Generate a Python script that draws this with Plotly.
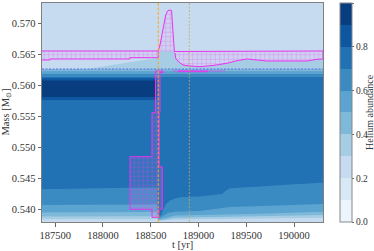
import plotly.graph_objects as go

# ---------------- data ----------------
T_RANGE = [187362, 190303]
M_RANGE = [0.53795, 0.57327]

# helium-abundance band colours (Blues, 10 levels 0..1)
HE_LEVELS = [0.05, 0.15, 0.25, 0.35, 0.45, 0.55, 0.65, 0.75, 0.85, 0.95]
BLUES = ['#edf5fc', '#d9e8f5', '#c6dbef', '#a6cde4', '#7fb9da',
         '#5ba3d0', '#3b8bc3', '#2171b5', '#0d57a1', '#083d7f']

HE_CORE = 0.75
HE_ENV = 0.25

M_DASH = 0.56263          # dotted blue boundary
T_FLASH = 188579          # orange line
T_SECOND = 188904         # faint orange line
T_DARK_END = 188566

# graded bands just below the dotted boundary
UPPER_EDGES = [0.56263, 0.56219, 0.56177, 0.56134]
UPPER_HE = [0.45, 0.55, 0.65]

# dark band before the flash
DARK_OUTER = [0.55763, 0.56113]
DARK_INNER = [0.55811, 0.56077]

# wedge below the envelope convection zone before the flash
WEDGE_T = [187833, 188579, 188579]
WEDGE_M = [0.56263, 0.56445, 0.56263]

# bottom band boundaries (upper edge of each band, band drawn down to bottom)
B70_T = [187362, 187969, 188492, 188566, 188579, 188608, 188629, 188660, 188702,
         188754, 188807, 189016, 189246, 189288, 189330, 189644, 189958, 190303]
B70_M = [0.54323, 0.54339, 0.54352, 0.54352, 0.53876, 0.53908, 0.53989, 0.54086, 0.54142,
         0.54174, 0.54194, 0.54207, 0.54247, 0.54303, 0.54339, 0.54368, 0.54400, 0.54429]
B60_T = [187362, 188566, 188579, 188629, 188681, 188754, 189016, 189330, 190303]
B60_M = [0.54069, 0.54077, 0.53852, 0.53892, 0.53940, 0.53961, 0.53973, 0.54037, 0.54086]
B50_T = [187362, 188566, 188579, 188650, 188754, 189539, 190303]
B50_M = [0.53948, 0.53957, 0.53836, 0.53860, 0.53900, 0.53924, 0.53961]
B40_T = [187362, 188566, 188579, 188754, 190303]
B40_M = [0.53884, 0.53887, 0.53819, 0.53863, 0.53908]
B30_T = [187362, 188566, 188579, 188754, 190303]
B30_M = [0.53839, 0.53839, 0.53811, 0.53836, 0.53865]
BOTTOM_BANDS = [(B70_T, B70_M, 0.65), (B60_T, B60_M, 0.55), (B50_T, B50_M, 0.45),
                (B40_T, B40_M, 0.35), (B30_T, B30_M, 0.25)]

# convective zones
ENV_TOP = 0.56553
PRE_T = [187362, 188579, 188579, 188283, 188283, 187446, 187446, 187362]
PRE_M = [0.56553, 0.56553, 0.56445, 0.56445, 0.56424, 0.56424, 0.56408, 0.56408]

PEAK_T = [188579, 188597, 188621, 188639, 188657, 188676, 188702, 188718, 188726, 188737, 188747]
PEAK_M = [0.56553, 0.56650, 0.56844, 0.57021, 0.57134, 0.57198, 0.57215, 0.57206, 0.57053, 0.56731, 0.56545]

POST_BOT_T = [188754, 188762, 188789, 188838, 188911, 189016, 189152, 189299, 189403,
              189508, 189613, 189717, 189885, 190136, 190241, 190303]
POST_BOT_M = [0.56520, 0.56436, 0.56381, 0.56327, 0.56311, 0.56300, 0.56319, 0.56355, 0.56397,
              0.56424, 0.56408, 0.56392, 0.56392, 0.56392, 0.56419, 0.56424]

COL_T = [188550, 188629, 188629, 188597, 188597, 188590, 188590, 188621, 188621, 188587,
         188587, 188513, 188513, 188283, 188283, 188513, 188513, 188550, 188550]
COL_M = [0.56231, 0.56231, 0.56206, 0.56206, 0.55558, 0.55558, 0.54687, 0.54687, 0.54000, 0.54000,
         0.53871, 0.53871, 0.54000, 0.54000, 0.54848, 0.54848, 0.55558, 0.55558, 0.56231]

THIN_T = [188733, 189278]
THIN_M = [0.56231, 0.56231]
THIN_BOLD_T = [188786, 189100]
THIN_BOLD_M = [0.56225, 0.56225]

CB_TICKS = [0.0, 0.2, 0.4, 0.6, 0.8, 1.0]

# ---------------- figure ----------------
def col(he):
    return BLUES[min(int(he * 10), 9)]

fig = go.Figure()

def poly(ts, ms, color):
    fig.add_trace(go.Scatter(x=ts, y=ms, fill='toself', fillcolor=color, mode='none',
                             hoverinfo='skip', showlegend=False))

def rect(t0, t1, m0, m1, color):
    poly([t0, t1, t1, t0], [m0, m0, m1, m1], color)

t0, t1 = T_RANGE
m0, m1 = M_RANGE

rect(t0, t1, m0, m1, col(HE_CORE))
rect(t0, t1, M_DASH, m1, col(HE_ENV))
poly(WEDGE_T, WEDGE_M, col(0.35))
poly([T_FLASH, T_FLASH, PEAK_T[-1]] + POST_BOT_T + [t1],
     [M_DASH, ENV_TOP, ENV_TOP] + POST_BOT_M + [M_DASH], col(0.35))
for i, he in enumerate(UPPER_HE):
    rect(t0, t1, UPPER_EDGES[i + 1], UPPER_EDGES[i], col(he))
rect(t0, T_DARK_END, DARK_OUTER[0], DARK_OUTER[1], col(0.85))
rect(t0, T_DARK_END, DARK_INNER[0], DARK_INNER[1], col(0.95))
for bt, bm, he in BOTTOM_BANDS:
    poly(bt + [bt[-1], bt[0]], bm + [m0 - 0.001, m0 - 0.001], col(he))

# dotted boundary
fig.add_trace(go.Scatter(x=T_RANGE, y=[M_DASH, M_DASH], mode='lines',
                         line=dict(color='rgba(75,105,235,0.9)', width=1.1, dash='2px,1.5px'),
                         hoverinfo='skip', showlegend=False))

HATCH = dict(shape='+', fgcolor='rgba(240,60,240,0.85)', size=4.5, solidity=0.22, fillmode='overlay')
def conv(ts, ms):
    fig.add_trace(go.Scatter(x=ts, y=ms, fill='toself', fillcolor='rgba(255,140,255,0.10)',
                             fillpattern=HATCH, mode='lines',
                             line=dict(color='rgb(235,50,240)', width=1),
                             hoverinfo='skip', showlegend=False))

conv(PRE_T, PRE_M)
conv(PEAK_T + [t1] + POST_BOT_T[::-1], PEAK_M + [ENV_TOP] + POST_BOT_M[::-1])
conv(COL_T, COL_M)

fig.add_trace(go.Scatter(x=THIN_T, y=THIN_M, mode='lines',
                         line=dict(color='rgba(235,50,240,0.6)', width=1),
                         hoverinfo='skip', showlegend=False))
fig.add_trace(go.Scatter(x=THIN_BOLD_T, y=THIN_BOLD_M, mode='lines',
                         line=dict(color='rgba(235,50,240,0.8)', width=1.8),
                         hoverinfo='skip', showlegend=False))

# vertical markers
fig.add_trace(go.Scatter(x=[T_FLASH, T_FLASH], y=M_RANGE, mode='lines',
                         line=dict(color='rgba(255,165,20,0.95)', width=1, dash='3px,1.5px'),
                         hoverinfo='skip', showlegend=False))
fig.add_trace(go.Scatter(x=[T_SECOND, T_SECOND], y=M_RANGE, mode='lines',
                         line=dict(color='rgba(205,165,95,0.85)', width=0.9, dash='2px,1.5px'),
                         hoverinfo='skip', showlegend=False))

# colorbar carrier
cscale = []
for i, c in enumerate(BLUES):
    cscale.append([i / 10, c])
    cscale.append([(i + 1) / 10, c])
FONT = 'Liberation Serif'
TXT = '#333'
fig.add_trace(go.Scatter(x=[None], y=[None], mode='markers', hoverinfo='skip', showlegend=False,
                         marker=dict(color=[0.5], cmin=0, cmax=1, colorscale=cscale, showscale=True,
                                     colorbar=dict(x=1.0605, xanchor='left', xpad=0, ypad=0,
                                                   thickness=12, len=1, lenmode='fraction',
                                                   y=0.5, yanchor='middle',
                                                   outlinecolor='#888', outlinewidth=1,
                                                   tickmode='array', tickvals=CB_TICKS,
                                                   ticktext=['%.1f' % v for v in CB_TICKS],
                                                   ticks='outside', ticklen=2, tickcolor='#666',
                                                   tickfont=dict(family=FONT, size=9.5, color=TXT)))))

axis_common = dict(showgrid=False, zeroline=False, showline=True, mirror=True, automargin=False,
                   linecolor='#808080', linewidth=1, ticks='outside', ticklen=3.5,
                   tickcolor='#666', tickfont=dict(family=FONT, size=10.5, color=TXT))

fig.update_layout(
    width=374, height=251,
    margin=dict(l=42, r=51, t=3, b=29),
    paper_bgcolor='white', plot_bgcolor='white',
    xaxis=dict(range=T_RANGE, tickmode='linear', tick0=187500, dtick=500, tickformat='d',
               **axis_common),
    yaxis=dict(range=M_RANGE, tickmode='linear', tick0=0.540, dtick=0.005, tickformat='.3f',
               **axis_common),
    annotations=[
        dict(text='t [yr]', xref='paper', yref='paper', x=0.5, y=-0.105, xanchor='center',
             yanchor='middle', showarrow=False, font=dict(family=FONT, size=10.5, color=TXT)),
        dict(text='Mass [M<sub>⊙</sub>]', xref='paper', yref='paper', x=-0.128, y=0.5,
             textangle=-90, xanchor='center', yanchor='middle', showarrow=False,
             font=dict(family=FONT, size=10.5, color=TXT)),
        dict(text='Helium abundance', xref='paper', yref='paper', x=1.1655, y=0.5,
             textangle=-90, xanchor='center', yanchor='middle', showarrow=False,
             font=dict(family=FONT, size=10, color=TXT)),
    ],
)

fig.write_html('out.html', config={'displayModeBar': False},
               post_script="document.body.style.margin='0';")
